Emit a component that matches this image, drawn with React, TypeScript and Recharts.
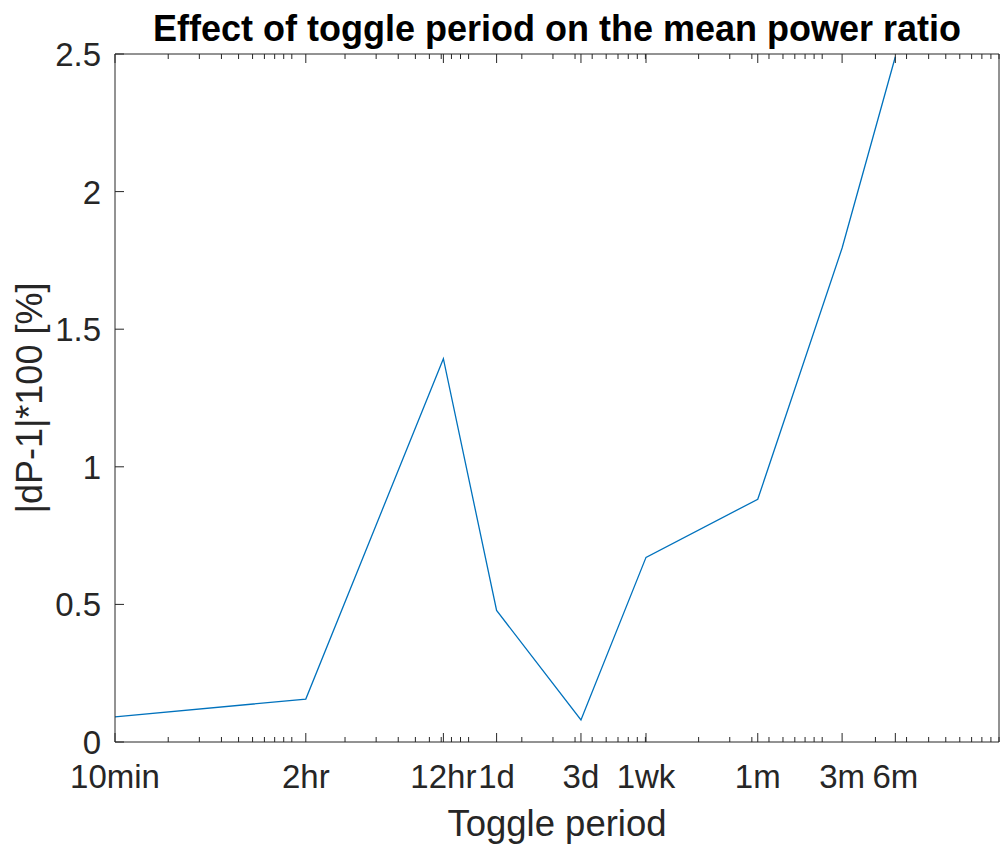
import React from 'react';
import { LineChart, Line, XAxis, YAxis } from 'recharts';

// toggle period in minutes, and |dP-1|*100 in percent
const periodMinutes = [10, 120, 720, 1440, 4320, 10080, 43200, 129600, 259200];
const powerRatioPct = [0.091, 0.156, 1.393, 0.478, 0.08, 0.671, 0.882, 1.795, 2.49];
const periodLabels = ['10min', '2hr', '12hr', '1d', '3d', '1wk', '1m', '3m', '6m'];
const yTicks = [0, 0.5, 1, 1.5, 2, 2.5];

const X_MIN = 10;
const X_MAX = 1e6;

// log-axis minor ticks: k * 10^n
const minorTicks: number[] = [];
for (let d = X_MIN; d < X_MAX; d *= 10) {
    for (let k = 1; k <= 9; k++) minorTicks.push(k * d);
}
minorTicks.push(X_MAX);

const allXTicks = Array.from(new Set([...minorTicks, ...periodMinutes])).sort((a, b) => a - b);

const data = periodMinutes.map((m, i) => ({ m, v: powerRatioPct[i] }));

const AXIS = '#262626';
const FONT = '"Liberation Sans", Arial, Helvetica, sans-serif';
const MAJOR = 9;
const MINOR = 5;

const BottomTick = (props: any) => {
    const { x, y, payload } = props;
    const idx = periodMinutes.indexOf(payload.value);
    const major = idx >= 0;
    return (
        <g>
            <line x1={x} x2={x} y1={y} y2={y - (major ? MAJOR : MINOR)} stroke={AXIS} strokeWidth={1} />
            {major && (
                <text x={x} y={y + 46} textAnchor="middle" fontSize={33} fill={AXIS} fontFamily={FONT}>
                    {periodLabels[idx]}
                </text>
            )}
        </g>
    );
};

const TopTick = (props: any) => {
    const { x, y, payload } = props;
    const major = periodMinutes.includes(payload.value);
    return <line x1={x} x2={x} y1={y} y2={y + (major ? MAJOR : MINOR)} stroke={AXIS} strokeWidth={1} />;
};

const LeftTick = (props: any) => {
    const { x, y, payload } = props;
    return (
        <g>
            <line x1={x} x2={x + MAJOR} y1={y} y2={y} stroke={AXIS} strokeWidth={1} />
            <text x={x - 14} y={y + 12} textAnchor="end" fontSize={33} fill={AXIS} fontFamily={FONT}>
                {payload.value}
            </text>
        </g>
    );
};

const RightTick = (props: any) => {
    const { x, y } = props;
    return <line x1={x} x2={x - MAJOR} y1={y} y2={y} stroke={AXIS} strokeWidth={1} />;
};

const App: React.FC = () => {
    return (
        <div style={{ position: 'absolute', left: 0, top: 0, width: 1005, height: 848, background: '#fff' }}>
            <LineChart width={1005} height={848} data={data} margin={{ top: 53, right: 5, bottom: 105, left: 114 }}>
                <XAxis
                    xAxisId="bottom"
                    dataKey="m"
                    type="number"
                    scale="log"
                    domain={[X_MIN, X_MAX]}
                    allowDataOverflow
                    ticks={allXTicks}
                    interval={0}
                    height={1}
                    tickSize={0}
                    tickMargin={0}
                    tickLine={false}
                    axisLine={{ stroke: AXIS, strokeWidth: 1 }}
                    tick={<BottomTick />}
                />
                <XAxis
                    xAxisId="top"
                    orientation="top"
                    dataKey="m"
                    type="number"
                    scale="log"
                    domain={[X_MIN, X_MAX]}
                    allowDataOverflow
                    ticks={allXTicks}
                    interval={0}
                    height={1}
                    tickSize={0}
                    tickMargin={0}
                    tickLine={false}
                    axisLine={{ stroke: AXIS, strokeWidth: 1 }}
                    tick={<TopTick />}
                />
                <YAxis
                    yAxisId="left"
                    type="number"
                    domain={[0, 2.5]}
                    ticks={yTicks}
                    interval={0}
                    width={1}
                    tickSize={0}
                    tickMargin={0}
                    tickLine={false}
                    axisLine={{ stroke: AXIS, strokeWidth: 1 }}
                    tick={<LeftTick />}
                />
                <YAxis
                    yAxisId="right"
                    orientation="right"
                    type="number"
                    domain={[0, 2.5]}
                    ticks={yTicks}
                    interval={0}
                    width={1}
                    tickSize={0}
                    tickMargin={0}
                    tickLine={false}
                    axisLine={{ stroke: AXIS, strokeWidth: 1 }}
                    tick={<RightTick />}
                />
                <Line
                    xAxisId="bottom"
                    yAxisId="left"
                    type="linear"
                    dataKey="v"
                    stroke="#0072BD"
                    strokeWidth={1.3}
                    dot={false}
                    isAnimationActive={false}
                />
                <text x={557} y={41} textAnchor="middle" fontSize={36} fontWeight="bold" fill="#000" fontFamily={FONT}>
                    Effect of toggle period on the mean power ratio
                </text>
                <text x={557} y={836} textAnchor="middle" fontSize={36.5} fill={AXIS} fontFamily={FONT}>
                    Toggle period
                </text>
                <text
                    x={0}
                    y={0}
                    transform="translate(42 398) rotate(-90)"
                    textAnchor="middle"
                    fontSize={36}
                    fill={AXIS}
                    fontFamily={FONT}
                >
                    |dP-1|*100 [%]
                </text>
            </LineChart>
        </div>
    );
};

export default App;
